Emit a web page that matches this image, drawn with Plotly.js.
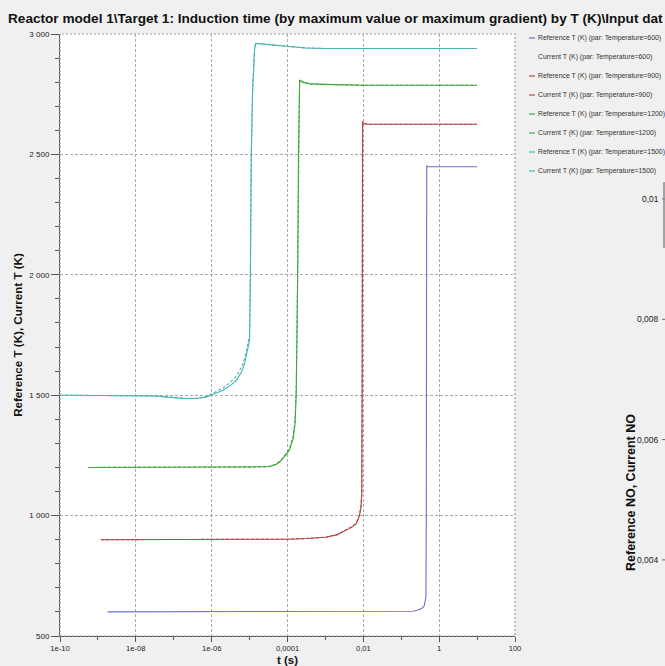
<!DOCTYPE html>
<html>
<head>
<meta charset="utf-8">
<script src="https://cdn.plot.ly/plotly-3.0.1.min.js"></script>
<style>
html,body{margin:0;padding:0;background:#f0f0f0;}
#chart{width:665px;height:666px;}
</style>
</head>
<body>
<div id="chart"></div>
<script>
// ---- data ----
const titleText = 'Reactor model 1\\Target 1: Induction time (by maximum value or maximum gradient) by T (K)\\Input dat';
const xTitle = 't (s)';
const yTitle = 'Reference T (K), Current T (K)';
const rightTitle = 'Reference NO, Current NO';

const xTickVals = [1e-10, 1e-8, 1e-6, 1e-4, 1e-2, 1, 100];
const xTickText = ['1e-10', '1e-08', '1e-06', '0,0001', '0,01', '1', '100'];
const xMinorVals = [1e-9, 1e-7, 1e-5, 1e-3, 0.1, 10];
const yTickVals = [500, 1000, 1500, 2000, 2500, 3000];
const yTickText = ['500', '1 000', '1 500', '2 000', '2 500', '3 000'];
const noTickVals = [0.01, 0.008, 0.006, 0.004];
const noTickText = ['0,01', '0,008', '0,006', '0,004'];

const seriesNames = [
  'Reference T (K) (par: Temperature=600)',
  'Current T (K) (par: Temperature=600)',
  'Reference T (K) (par: Temperature=900)',
  'Current T (K) (par: Temperature=900)',
  'Reference T (K) (par: Temperature=1200)',
  'Current T (K) (par: Temperature=1200)',
  'Reference T (K) (par: Temperature=1500)',
  'Current T (K) (par: Temperature=1500)'
];

// T = 600
const tRef600 = [1.8e-9, 1e-2, 0.1, 0.2, 0.27, 0.35, 0.4, 0.447, 0.458, 0.465, 0.47, 0.5, 10];
const TRef600 = [600, 600, 601, 603, 607, 615, 624, 662, 1000, 2000, 2453, 2449, 2449];
const tCur600 = [];
const TCur600 = [];

// T = 900
const tRef900 = [1.2e-9, 1e-6, 1e-5, 1e-4, 3.2e-4, 1e-3, 2e-3, 3.5e-3, 5e-3, 6.5e-3, 7.9e-3, 8.7e-3, 9.1e-3, 9.3e-3, 9.4e-3, 9.55e-3, 1e-2, 1.26e-2, 0.1, 10];
const TRef900 = [900, 900, 900, 902, 905, 910, 920, 939, 952, 967, 1000, 1036, 1092, 1500, 2000, 2636, 2628, 2625, 2625, 2625];
const tCur900 = [1.2e-9, 1e-6, 1e-5, 1e-4, 3.2e-4, 1e-3, 2e-3, 3.5e-3, 5e-3, 6.5e-3, 7.9e-3, 8.7e-3, 9.1e-3, 9.3e-3, 9.4e-3, 9.55e-3, 1e-2, 1.26e-2, 0.1, 10];
const TCur900 = [900, 900, 900, 902, 905, 910, 921, 940, 954, 969, 1003, 1040, 1100, 1510, 2010, 2638, 2629, 2625, 2625, 2625];

// T = 1200
const tRef1200 = [5.5e-10, 1e-8, 1e-6, 1e-5, 3.2e-5, 5e-5, 6.3e-5, 8.9e-5, 1.12e-4, 1.41e-4, 1.58e-4, 1.7e-4, 1.78e-4, 1.86e-4, 1.95e-4, 2.02e-4, 2.09e-4, 2.5e-4, 4e-4, 8.5e-4, 3.2e-3, 1e-2, 10];
const TRef1200 = [1200, 1200, 1200, 1201, 1203, 1212, 1223, 1250, 1272, 1320, 1380, 1507, 1750, 2006, 2505, 2700, 2809, 2800, 2793, 2791, 2788, 2787, 2787];
const tCur1200 = [5.5e-10, 1e-8, 1e-6, 1e-5, 3.2e-5, 5e-5, 6.3e-5, 8.9e-5, 1.12e-4, 1.41e-4, 1.58e-4, 1.7e-4, 1.78e-4, 1.86e-4, 1.95e-4, 2.02e-4, 2.09e-4, 2.5e-4, 4e-4, 8.5e-4, 3.2e-3, 1e-2, 10];
const TCur1200 = [1200, 1200, 1200, 1201, 1204, 1214, 1226, 1254, 1278, 1330, 1395, 1530, 1780, 2030, 2520, 2705, 2809, 2800, 2793, 2791, 2788, 2787, 2787];

// T = 1500
const tRef1500 = [1e-10, 1e-9, 1e-8, 3e-8, 1e-7, 2e-7, 4e-7, 7e-7, 1e-6, 2e-6, 3.2e-6, 4.5e-6, 6.3e-6, 7.4e-6, 8.9e-6, 1e-5, 1.05e-5, 1.11e-5, 1.2e-5, 1.27e-5, 1.35e-5, 1.44e-5, 2e-5, 4e-5, 1e-4, 3e-4, 1e-3, 1e-2, 10];
const TRef1500 = [1500, 1500, 1499, 1497, 1490, 1486, 1486, 1492, 1501, 1521, 1542, 1562, 1600, 1632, 1690, 1729, 2000, 2500, 2760, 2878, 2935, 2961, 2959, 2954, 2947, 2942, 2940, 2940, 2940];
const tCur1500 = [1e-10, 1e-9, 1e-8, 3e-8, 1e-7, 2e-7, 4e-7, 7e-7, 1e-6, 2e-6, 3.2e-6, 4.5e-6, 6.3e-6, 7.4e-6, 8.9e-6, 1e-5, 1.05e-5, 1.11e-5, 1.2e-5, 1.27e-5, 1.35e-5, 1.44e-5, 2e-5, 4e-5, 1e-4, 3e-4, 1e-3, 1e-2, 10];
const TCur1500 = [1500, 1500, 1499, 1497, 1490, 1486, 1487, 1494, 1505, 1530, 1555, 1580, 1620, 1652, 1710, 1750, 2010, 2505, 2762, 2879, 2935, 2961, 2959, 2954, 2947, 2942, 2940, 2940, 2940];

// ---- styles ----
const colBlue = '#7070cf', colRed = '#b34848', colGreen = '#3fa83f', colCyan = '#48b4b4';
const FONT = 'Liberation Sans, Arial, sans-serif';

const W = 665, H = 666;
const L = 60, R = 150, T = 34, B = 30;
const plotW = W - L - R, plotH = H - T - B;
const pxToPaperX = px => (px - L) / plotW;
const pyToPaperY = py => 1 - (py - T) / plotH;

const seriesX = [tRef600, tCur600, tRef900, tCur900, tRef1200, tCur1200, tRef1500, tCur1500];
const seriesY = [TRef600, TCur600, TRef900, TCur900, TRef1200, TCur1200, TRef1500, TCur1500];
const seriesColor = [colBlue, 'rgba(0,0,0,0)', colRed, colRed, colGreen, colGreen, colCyan, colCyan];
const seriesDash = ['solid', '3px,2px', 'solid', '3px,2px', 'solid', '3px,2px', 'solid', '3px,2px'];

const traces = seriesNames.map((n, i) => ({
  type: 'scatter', mode: 'lines', name: n,
  x: seriesX[i], y: seriesY[i],
  line: {color: seriesColor[i], width: 1.1, dash: seriesDash[i]},
  showlegend: false, hoverinfo: 'skip'
}));

const annotations = [];
const shapes = [];

// legend (custom, to reproduce the compact original one)
seriesNames.forEach((n, i) => {
  const py = 38 + 19 * i;
  annotations.push({
    xref: 'paper', yref: 'paper', x: pxToPaperX(536), y: pyToPaperY(py),
    xanchor: 'left', yanchor: 'middle', showarrow: false, text: n,
    font: {family: FONT, size: 6.9, color: '#333'}
  });
  if (i !== 1) {
    shapes.push({
      type: 'line', xref: 'paper', yref: 'paper',
      x0: pxToPaperX(529), x1: pxToPaperX(535), y0: pyToPaperY(py), y1: pyToPaperY(py),
      line: {color: seriesColor[i], width: 1.2, dash: 'solid'}
    });
  }
});

// partially visible second chart on the right
noTickVals.forEach((v, i) => {
  const py = 199 + (0.01 - v) / 0.002 * 120.3;
  annotations.push({
    xref: 'paper', yref: 'paper', x: pxToPaperX(661), y: pyToPaperY(py),
    xanchor: 'right', yanchor: 'middle', showarrow: false, text: noTickText[i],
    font: {family: FONT, size: 8.5, color: '#222'}
  });
  shapes.push({
    type: 'line', xref: 'paper', yref: 'paper',
    x0: pxToPaperX(662), x1: pxToPaperX(666), y0: pyToPaperY(py), y1: pyToPaperY(py),
    line: {color: '#666', width: 1}
  });
});
shapes.push({
  type: 'line', xref: 'paper', yref: 'paper',
  x0: pxToPaperX(664), x1: pxToPaperX(664), y0: pyToPaperY(182), y1: pyToPaperY(248),
  line: {color: '#888', width: 1.5}
});
annotations.push({
  xref: 'paper', yref: 'paper', x: pxToPaperX(631), y: pyToPaperY(493),
  xanchor: 'center', yanchor: 'middle', showarrow: false, textangle: -90,
  text: rightTitle, font: {family: FONT, size: 12.5, color: '#111', weight: 'bold'}
});

// x-axis title placed just under the tick labels
annotations.push({
  xref: 'paper', yref: 'paper', x: 0.5, y: pyToPaperY(660),
  xanchor: 'center', yanchor: 'middle', showarrow: false,
  text: xTitle, font: {family: FONT, size: 11.5, color: '#111', weight: 'bold'}
});

// dashed frame of the plot area
shapes.push({
  type: 'rect', xref: 'paper', yref: 'paper', x0: 0, x1: 1, y0: 0, y1: 1,
  line: {color: '#999', width: 1.2, dash: '2px,2px'}, layer: 'above'
});

const layout = {
  width: W, height: H,
  margin: {l: L, r: R, t: T, b: B, pad: 0},
  paper_bgcolor: '#f0f0f0', plot_bgcolor: '#ffffff',
  showlegend: false,
  title: {
    text: titleText, xref: 'container', yref: 'container',
    x: 8 / W, xanchor: 'left', y: 1 - 18 / H, yanchor: 'middle',
    font: {family: FONT, size: 13.6, color: '#111', weight: 'bold'}
  },
  xaxis: {
    type: 'log', range: [-10, 2], autorange: false,
    tickmode: 'array', tickvals: xTickVals, ticktext: xTickText,
    ticks: 'outside', ticklen: 5, tickcolor: '#555', tickwidth: 1,
    showline: true, linecolor: '#555', linewidth: 1,
    showgrid: true, gridcolor: '#aaa', griddash: '3px,2px', gridwidth: 1,
    zeroline: false,
    minor: {tickmode: 'array', tickvals: xMinorVals, ticks: 'outside', ticklen: 3, tickcolor: '#555', showgrid: false},
    tickfont: {family: FONT, size: 7.6, color: '#222'},
    automargin: false
  },
  yaxis: {
    range: [500, 3000], autorange: false,
    tickmode: 'array', tickvals: yTickVals, ticktext: yTickText,
    ticks: 'outside', ticklen: 8, tickcolor: '#555', tickwidth: 1,
    showline: true, linecolor: '#555', linewidth: 1,
    showgrid: true, gridcolor: '#aaa', griddash: '3px,2px', gridwidth: 1,
    zeroline: false,
    minor: {dtick: 100, ticks: 'outside', ticklen: 4, tickcolor: '#555', showgrid: false},
    tickfont: {family: FONT, size: 8, color: '#222'},
    title: {text: yTitle, standoff: 4, font: {family: FONT, size: 11.6, color: '#111', weight: 'bold'}},
    automargin: false
  },
  annotations: annotations,
  shapes: shapes
};

Plotly.newPlot('chart', traces, layout, {displayModeBar: false, staticPlot: true});
</script>
</body>
</html>
